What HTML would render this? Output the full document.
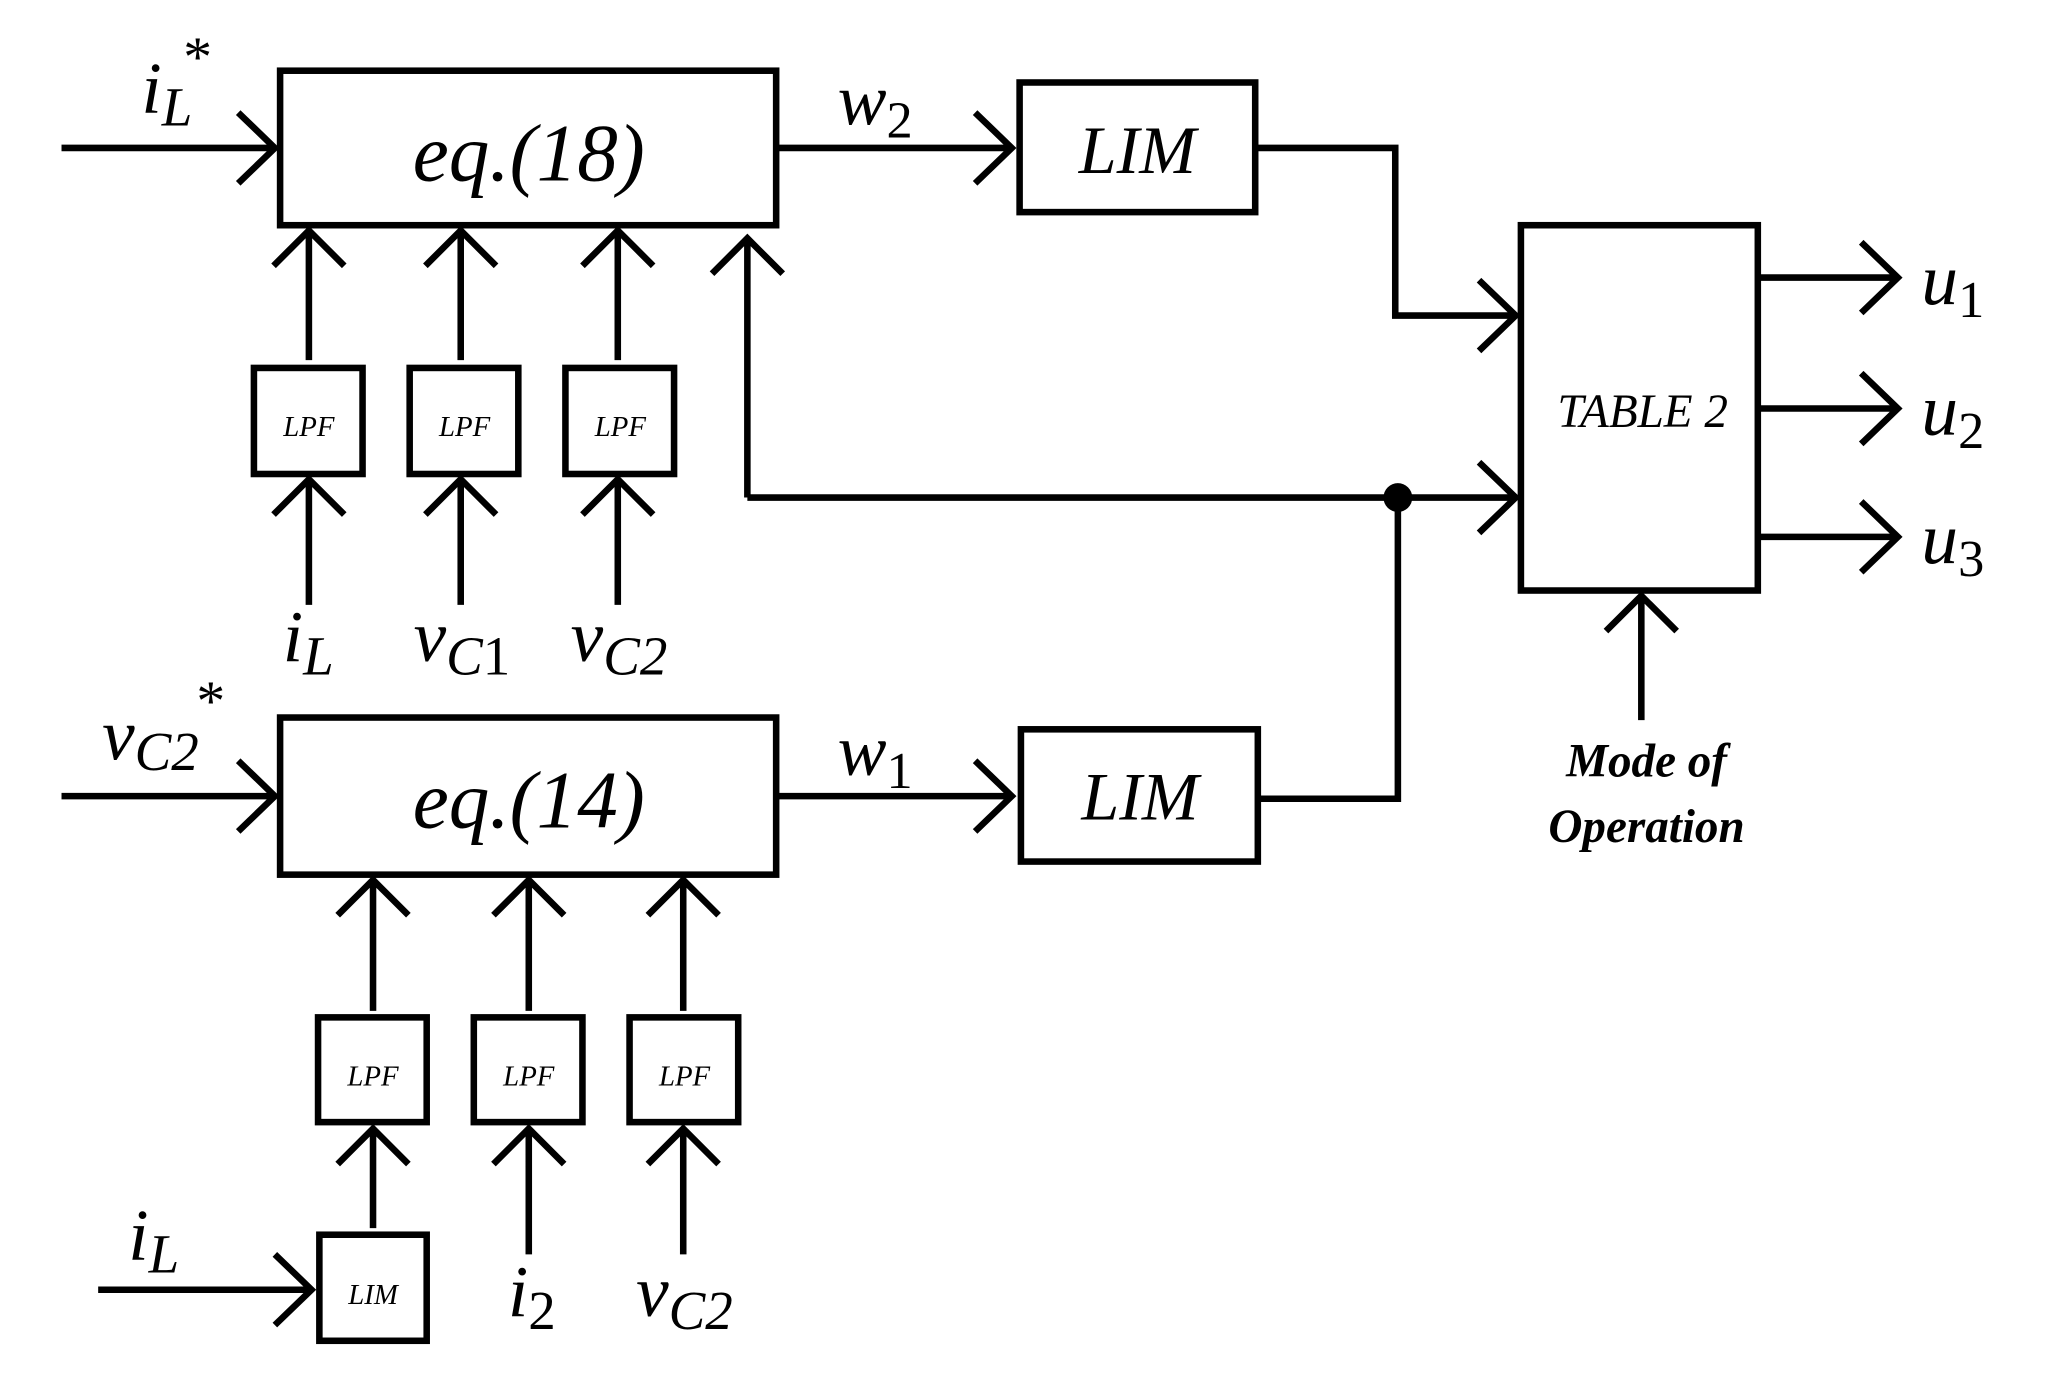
<!DOCTYPE html>
<html><head><meta charset="utf-8"><style>
html,body{margin:0;padding:0;background:#fff;}
svg{display:block;}
text{font-family:"Liberation Serif",serif;font-style:italic;fill:#000;}
.n{font-style:normal;}
</style></head><body>
<svg width="2051" height="1384" viewBox="0 0 1567 1057" preserveAspectRatio="none" xmlns="http://www.w3.org/2000/svg">
<g fill="none" stroke="#000" stroke-width="5" stroke-linejoin="miter">
<rect x="214" y="54" width="379" height="118"/>
<path d="M47 113H210M182 86L210 113L182 140"/>
<path d="M593 113H773M745 86L773 113L745 140"/>
<rect x="779" y="63" width="180" height="99"/>
<path d="M959 113H1066V241H1158M1130 214L1158 241L1130 268"/>
<rect x="1162" y="172" width="181" height="279"/>
<path d="M1343 212H1450M1422 185L1450 212L1422 239"/>
<path d="M1343 312H1450M1422 285L1450 312L1422 339"/>
<path d="M1343 410H1450M1422 383L1450 410L1422 437"/>
<path d="M571 380V182M544 209L571 182L598 209"/>
<path d="M571 380H1158M1130 353L1158 380L1130 407"/>
<path d="M1068 380V610H962"/>
<path d="M1254 550V455M1227 482L1254 455L1281 482"/>
<path d="M236 275V176M209 203L236 176L263 203"/>
<path d="M352 275V176M325 203L352 176L379 203"/>
<path d="M472 275V176M445 203L472 176L499 203"/>
<rect x="194" y="281" width="83" height="81"/>
<rect x="313" y="281" width="83" height="81"/>
<rect x="432" y="281" width="83" height="81"/>
<path d="M236 462V366M209 393L236 366L263 393"/>
<path d="M352 462V366M325 393L352 366L379 393"/>
<path d="M472 462V366M445 393L472 366L499 393"/>
<rect x="214" y="548" width="379" height="120"/>
<path d="M47 608H210M182 581L210 608L182 635"/>
<path d="M593 608H773M745 581L773 608L745 635"/>
<rect x="780" y="557" width="181" height="101"/>
<path d="M285 772V672M258 699L285 672L312 699"/>
<path d="M404 772V672M377 699L404 672L431 699"/>
<path d="M522 772V672M495 699L522 672L549 699"/>
<rect x="243" y="777" width="83" height="80"/>
<rect x="362" y="777" width="83" height="80"/>
<rect x="481" y="777" width="83" height="80"/>
<path d="M285 938V862M258 889L285 862L312 889"/>
<path d="M404 958V862M377 889L404 862L431 889"/>
<path d="M522 958V862M495 889L522 862L549 889"/>
<rect x="244" y="943" width="82" height="81"/>
<path d="M75 985H238M210 958L238 985L210 1012"/>
</g>
<circle cx="1068" cy="380" r="11" fill="#000"/>
<text x="404" y="138" font-size="62" text-anchor="middle">eq.(18)</text>
<text x="404" y="632" font-size="62" text-anchor="middle">eq.(14)</text>
<text x="869" y="132" font-size="52" text-anchor="middle">LIM</text>
<text x="871" y="626" font-size="52" text-anchor="middle">LIM</text>
<text x="1255" y="326" font-size="36" text-anchor="middle">TABLE 2</text>
<text x="1258" y="593" font-size="36" font-weight="bold" text-anchor="middle">Mode of</text>
<text x="1258" y="643" font-size="36" font-weight="bold" text-anchor="middle">Operation</text>
<text x="236" y="333" font-size="22" text-anchor="middle">LPF</text>
<text x="355" y="333" font-size="22" text-anchor="middle">LPF</text>
<text x="474" y="333" font-size="22" text-anchor="middle">LPF</text>
<text x="285" y="829" font-size="22" text-anchor="middle">LPF</text>
<text x="404" y="829" font-size="22" text-anchor="middle">LPF</text>
<text x="523" y="829" font-size="22" text-anchor="middle">LPF</text>
<text x="285" y="996" font-size="22" text-anchor="middle">LIM</text>
<text x="108" y="86" font-size="56">i<tspan font-size="42" dy="10">L</tspan></text>
<text x="140" y="58" font-size="44" class="n">*</text>
<text x="78" y="580" font-size="56">v<tspan font-size="42" dy="8">C2</tspan></text>
<text x="150" y="550" font-size="44" class="n">*</text>
<text x="640" y="95" font-size="56">w<tspan font-size="40" dy="10" class="n">2</tspan></text>
<text x="640" y="592" font-size="56">w<tspan font-size="40" dy="10" class="n">1</tspan></text>
<text x="1468" y="232" font-size="56">u<tspan font-size="40" dy="10" class="n">1</tspan></text>
<text x="1468" y="332" font-size="56">u<tspan font-size="40" dy="10" class="n">2</tspan></text>
<text x="1468" y="430" font-size="56">u<tspan font-size="40" dy="10" class="n">3</tspan></text>
<text x="216" y="505" font-size="56">i<tspan font-size="42" dy="10">L</tspan></text>
<text x="316" y="505" font-size="56">v<tspan font-size="42" dy="10">C<tspan class="n">1</tspan></tspan></text>
<text x="436" y="505" font-size="56">v<tspan font-size="42" dy="10">C2</tspan></text>
<text x="98" y="962" font-size="56">i<tspan font-size="42" dy="10">L</tspan></text>
<text x="388" y="1005" font-size="56">i<tspan font-size="42" dy="10" class="n">2</tspan></text>
<text x="486" y="1005" font-size="56">v<tspan font-size="42" dy="10">C2</tspan></text>
</svg>
</body></html>
